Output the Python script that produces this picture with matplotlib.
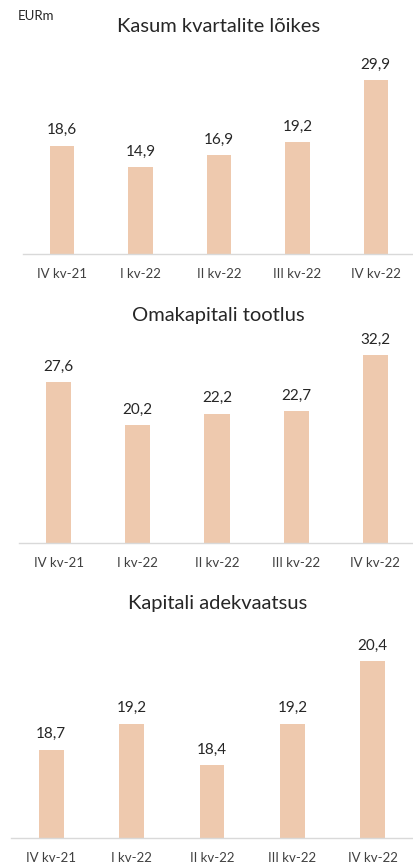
import matplotlib
matplotlib.use("Agg")
import matplotlib.pyplot as plt
import numpy as np

plt.rcParams["font.family"] = ["Lato", "DejaVu Sans"]

quarters = ["IV kv-21", "I kv-22", "II kv-22", "III kv-22", "IV kv-22"]

profit = [18.6, 14.9, 16.9, 19.2, 29.9]
roe = [27.6, 20.2, 22.2, 22.7, 32.2]
capital = [18.7, 19.2, 18.4, 19.2, 20.4]

titles = ["Kasum kvartalite lõikes", "Omakapitali tootlus", "Kapitali adekvaatsus"]

BAR_COLOR = "#EEC9AE"
AXIS_COLOR = "#D9D9D9"
TEXT_COLOR = "#404040"

W, H = 414, 865
fig = plt.figure(figsize=(W / 100, H / 100), dpi=100)


def px_axes(left, bottom, right, top):
    # pixel coords measured from the top-left corner of the image
    return fig.add_axes([left / W, 1 - bottom / H, (right - left) / W, (bottom - top) / H])


def draw_panel(ax, values, ylim, bar_width):
    x = np.arange(len(values))
    ax.bar(x, [v - ylim[0] for v in values], bottom=ylim[0], width=bar_width, color=BAR_COLOR)
    for xi, v in zip(x, values):
        ax.annotate(f"{v:.1f}".replace(".", ","), (xi, v), xytext=(0, 6), textcoords="offset points",
                    ha="center", va="bottom", fontsize=11, color="#262626")
    ax.set_xlim(-0.5, len(values) - 0.5)
    ax.set_ylim(*ylim)
    ax.set_xticks(x)
    ax.set_xticklabels(quarters, fontsize=9.5, color=TEXT_COLOR)
    ax.tick_params(axis="x", length=0, pad=10)
    ax.set_yticks([])
    for side in ["top", "right", "left"]:
        ax.spines[side].set_visible(False)
    ax.spines["bottom"].set_color(AXIS_COLOR)
    ax.spines["bottom"].set_linewidth(1.0)
    ax.patch.set_alpha(0)


ax1 = px_axes(23, 254, 415, 50)
draw_panel(ax1, profit, (0, 35), 0.31)

ax2 = px_axes(19, 543, 415, 310)
draw_panel(ax2, roe, (0, 40), 0.32)

ax3 = px_axes(11, 838, 413, 630)
draw_panel(ax3, capital, (17, 21), 0.31)

fig.text(219 / W, 1 - 27 / H, titles[0], ha="center", va="center", fontsize=14.5, color="#262626")
fig.text(218 / W, 1 - 315 / H, titles[1], ha="center", va="center", fontsize=14.5, color="#262626")
fig.text(218 / W, 1 - 604 / H, titles[2], ha="center", va="center", fontsize=14.5, color="#262626")
fig.text(18 / W, 1 - 16 / H, "EURm", ha="left", va="center", fontsize=9.5, color="#262626")

fig.savefig("out.png", dpi=100)
